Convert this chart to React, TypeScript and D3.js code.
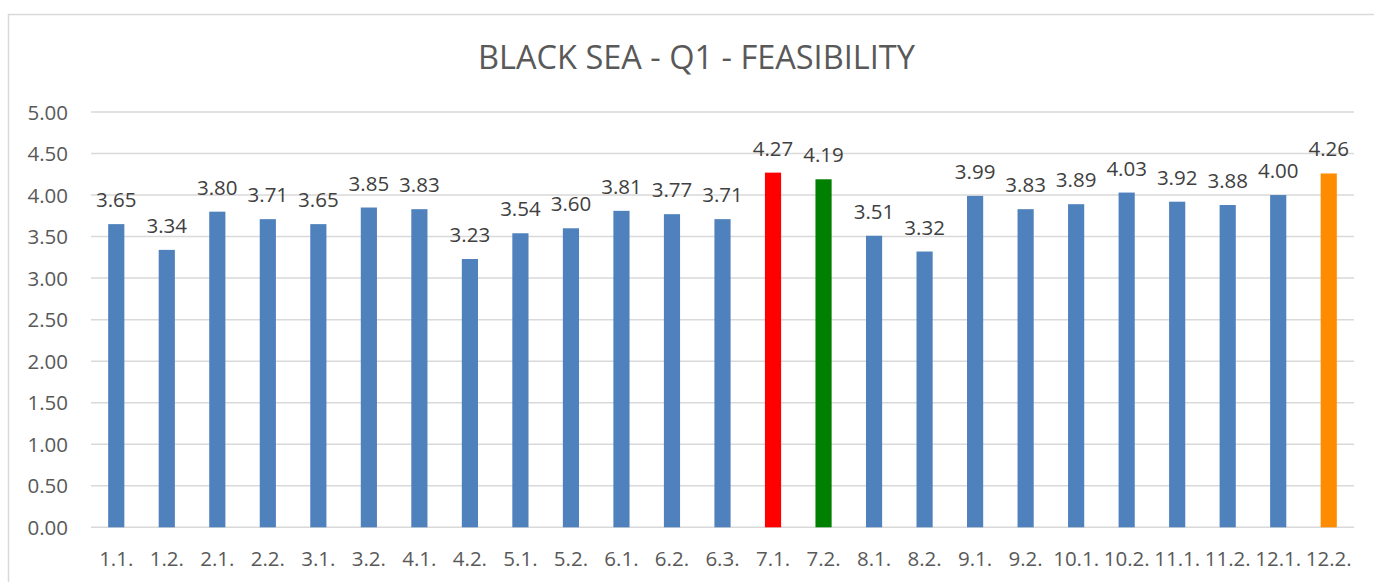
import React from 'react';
import * as d3 from 'd3';

const width = 1374;
const height = 582;

const categories = ['1.1.', '1.2.', '2.1.', '2.2.', '3.1.', '3.2.', '4.1.', '4.2.', '5.1.', '5.2.', '6.1.', '6.2.', '6.3.', '7.1.', '7.2.', '8.1.', '8.2.', '9.1.', '9.2.', '10.1.', '10.2.', '11.1.', '11.2.', '12.1.', '12.2.'];
const values = [3.65, 3.34, 3.8, 3.71, 3.65, 3.85, 3.83, 3.23, 3.54, 3.6, 3.81, 3.77, 3.71, 4.27, 4.19, 3.51, 3.32, 3.99, 3.83, 3.89, 4.03, 3.92, 3.88, 4.0, 4.26];
// special bar colours, everything else is the default blue
const highlight: Record<string, string> = { '7.1.': '#FF0000', '7.2.': '#008000', '12.2.': '#FF8C00' };
const yTicks = [0, 0.5, 1, 1.5, 2, 2.5, 3, 3.5, 4, 4.5, 5];
const title = 'BLACK SEA - Q1 - FEASIBILITY';

const font = '"Open Sans", sans-serif';
const plot = { left: 91, right: 1354, top: 112, bottom: 527.3 };

const App = () => {
	const x = d3.scaleBand<string>()
		.domain(categories)
		.range([plot.left, plot.right])
		.paddingInner(0.68)
		.paddingOuter(0.34);
	const y = d3.scaleLinear().domain([0, 5]).range([plot.bottom, plot.top]);
	const fmt = d3.format('.2f');

	return (
		<svg width={width} height={height} style={{ position: 'absolute', left: 0, top: 0 }}>
			<rect x={0} y={0} width={width} height={height} fill="#fff" />
			<rect x={8.5} y={14.5} width={1376} height={600} fill="#fff" stroke="#d9d9d9" strokeWidth={1.5} />
			<text x={696.5} y={68.5} textAnchor="middle" fontFamily={font} fontSize={32.5} fill="#595959">
				{title}
			</text>
			{yTicks.map((t) => (
				<g key={t}>
					<line x1={plot.left} x2={plot.right} y1={y(t)} y2={y(t)} stroke="#d9d9d9" strokeWidth={1.5} />
					<text x={68} y={y(t) + 7.5} textAnchor="end" fontFamily={font} fontSize={20.5} fill="#595959">
						{fmt(t)}
					</text>
				</g>
			))}
			{categories.map((c, i) => {
				const v = values[i];
				const bx = x(c)!;
				const cx = bx + x.bandwidth() / 2;
				return (
					<g key={c}>
						<rect x={bx} y={y(v)} width={x.bandwidth()} height={y(0) - y(v)} fill={highlight[c] || '#4F81BD'} />
						<text x={cx} y={y(v) - 17} textAnchor="middle" fontFamily={font} fontSize={20.5} fill="#404040">
							{fmt(v)}
						</text>
						<text x={cx} y={566} textAnchor="middle" fontFamily={font} fontSize={20.5} fill="#595959">
							{c}
						</text>
					</g>
				);
			})}
		</svg>
	);
};

export default App;
